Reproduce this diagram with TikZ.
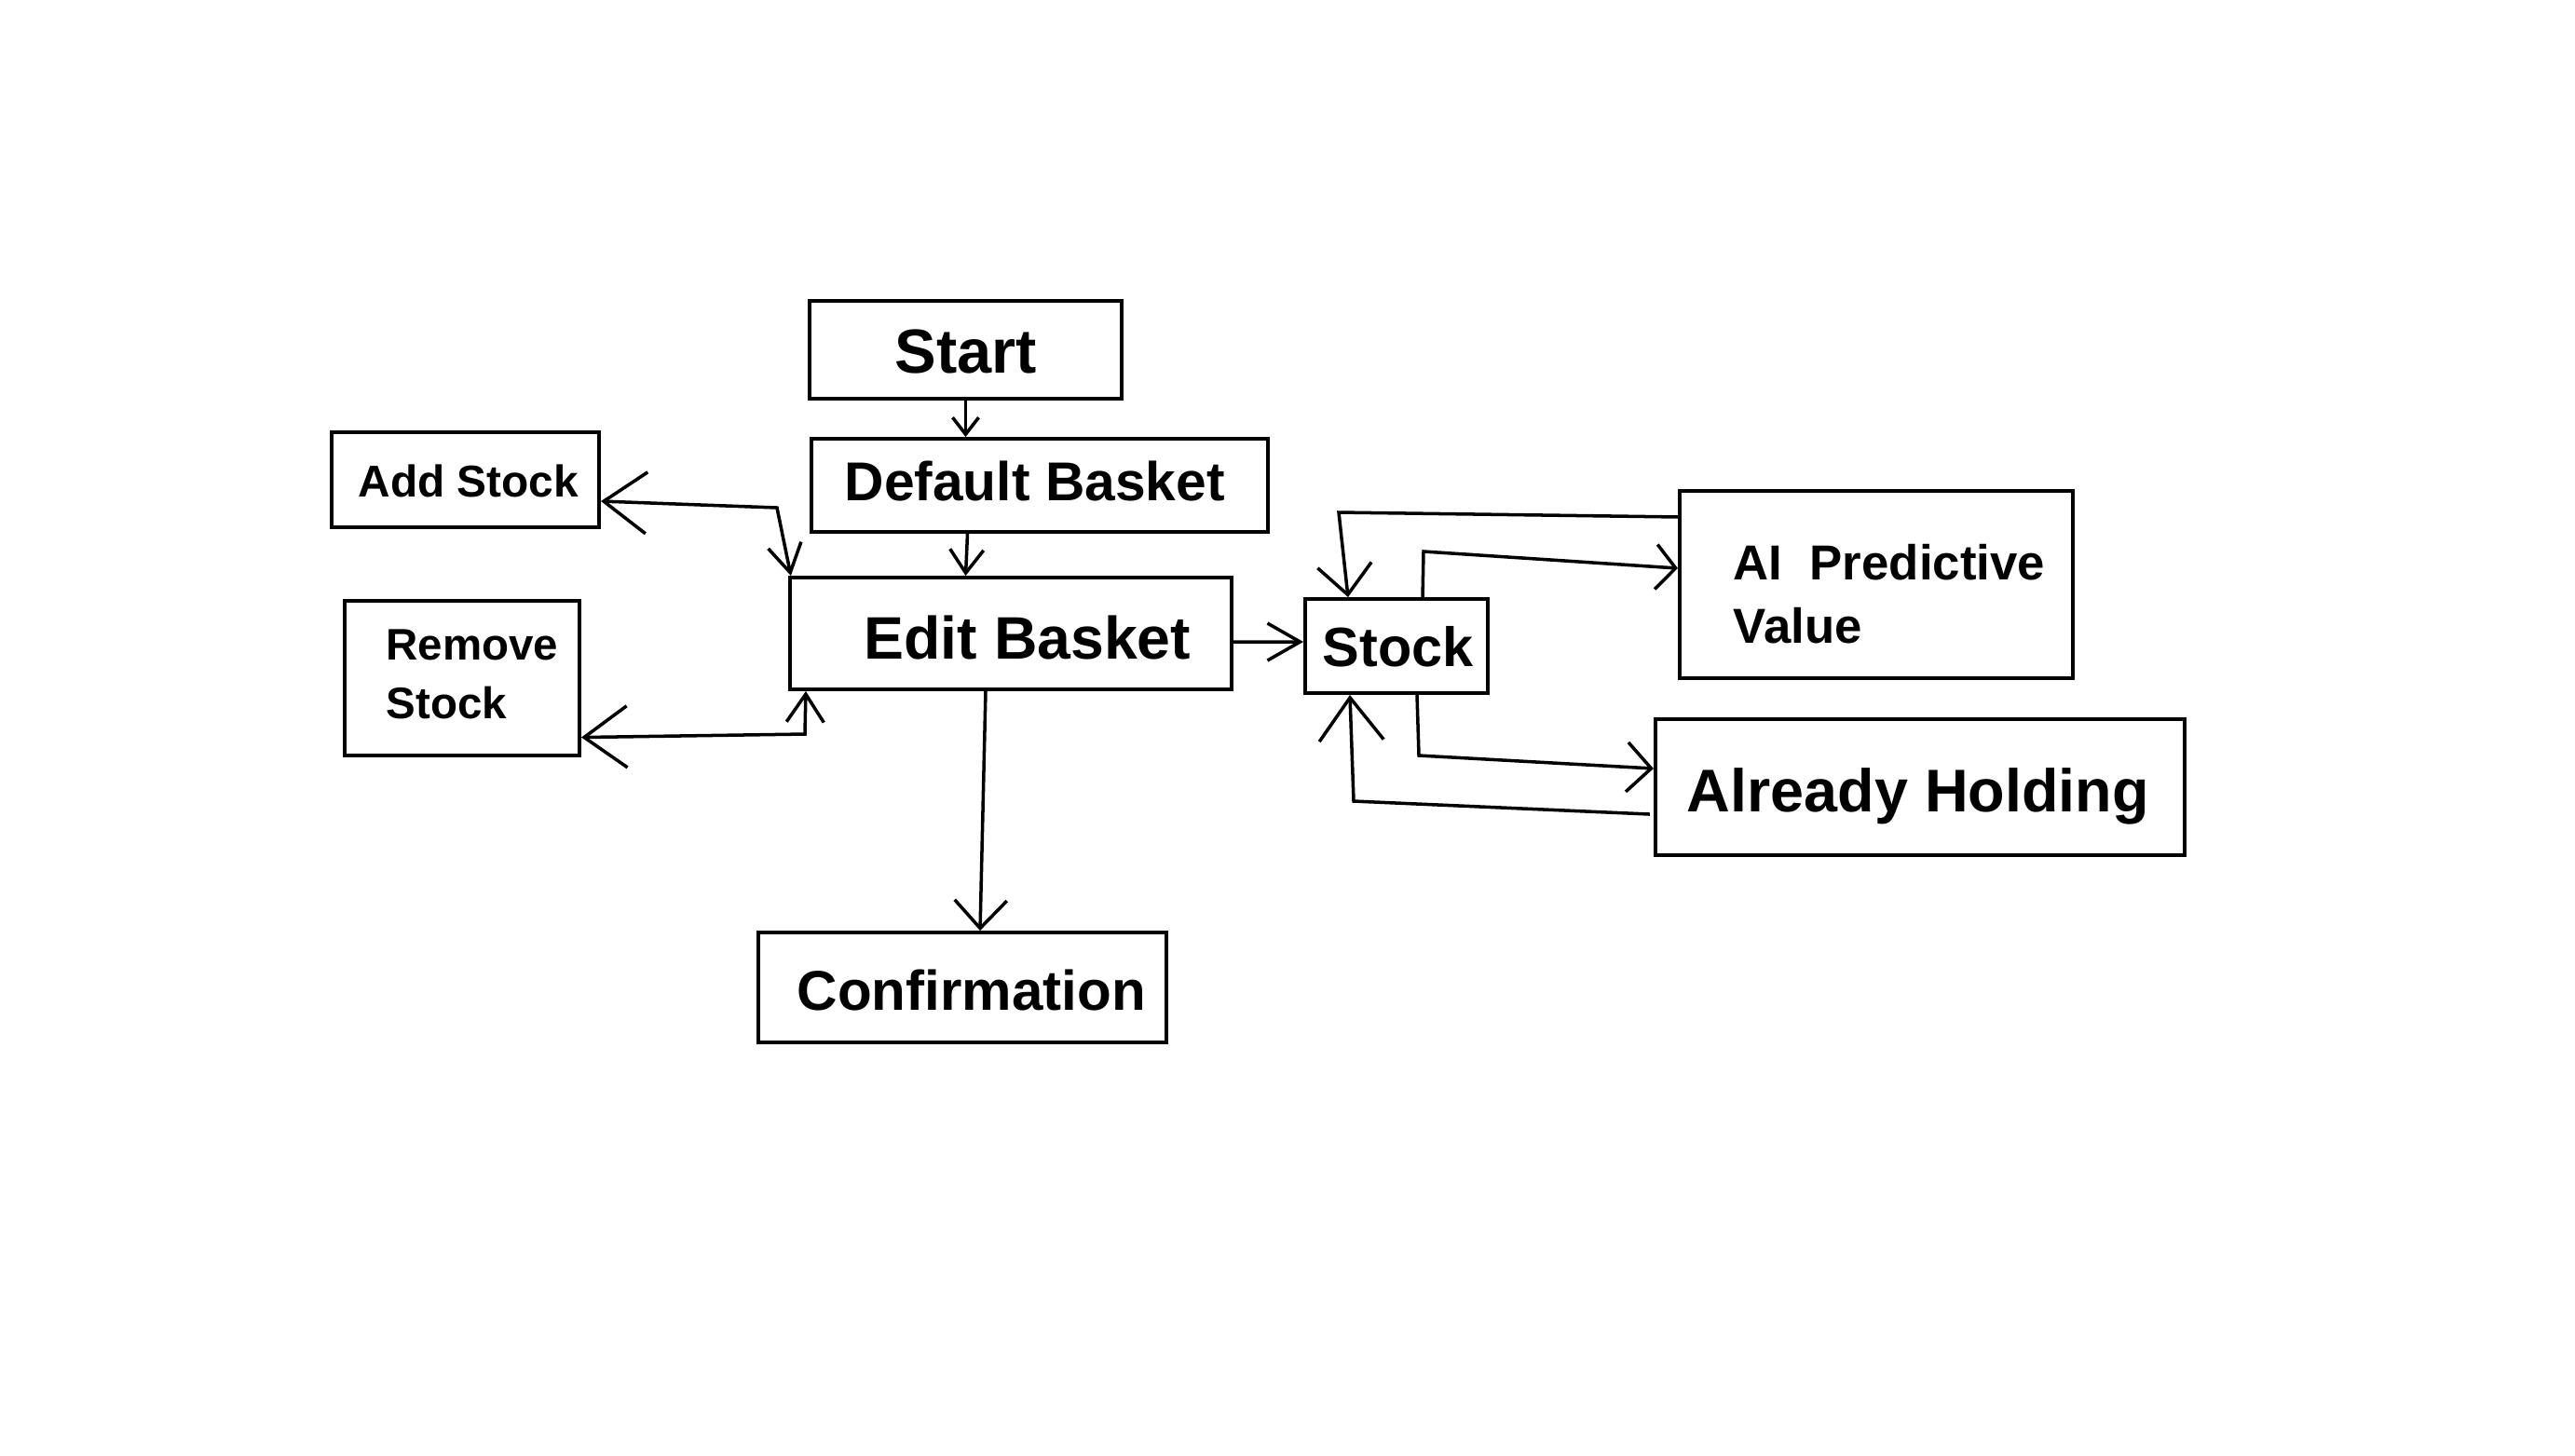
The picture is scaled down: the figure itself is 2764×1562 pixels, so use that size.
\documentclass[tikz,border=0pt]{standalone}
\usepackage{fontspec}
\setmainfont{Liberation Sans}
\usetikzlibrary{arrows.meta}
\begin{document}
\begin{tikzpicture}[x=0.01cm,y=-0.01cm,
  box/.style={draw=black,line width=1.1pt,inner sep=0pt,rectangle},
  txt/.style={anchor=base west,inner sep=0pt,font=\bfseries},
  conn/.style={draw=black,line width=1pt},
  ar/.style 2 args={-{Straight Barb[length=#1,width=#2]}}]
\useasboundingbox[fill=white] (0,0) rectangle (2764,1562);
% boxes
\node[box,minimum width=3.35cm,minimum height=1.05cm] (start) at (1036.5,375.5) {};
\node[box,minimum width=4.90cm,minimum height=1.00cm] (default) at (1116,521) {};
\node[box,minimum width=2.87cm,minimum height=1.02cm] (add) at (499.5,515) {};
\node[box,minimum width=2.52cm,minimum height=1.66cm] (remove) at (496,728) {};
\node[box,minimum width=4.74cm,minimum height=1.20cm] (edit) at (1085,680) {};
\node[box,minimum width=1.96cm,minimum height=1.01cm] (stock) at (1499,693.5) {};
\node[box,minimum width=4.22cm,minimum height=2.01cm] (ai) at (2014,627.5) {};
\node[box,minimum width=5.68cm,minimum height=1.46cm] (hold) at (2061,845) {};
\node[box,minimum width=4.38cm,minimum height=1.18cm] (conf) at (1033,1060) {};
% texts
\node[txt,font=\bfseries\fontsize{19}{23}\selectfont] (startT) at (960,400) {Start};
\node[txt,font=\bfseries\fontsize{16.7}{20}\selectfont] (defaultT) at (906,537.5) {Default Basket};
\node[txt,font=\bfseries\fontsize{13.6}{16}\selectfont] (addT) at (384,533.5) {Add Stock};
\node[txt,font=\bfseries\fontsize{13.5}{16}\selectfont] (removeT1) at (414,708) {Remove};
\node[txt,font=\bfseries\fontsize{13.5}{16}\selectfont] (removeT2) at (414,771.5) {Stock};
\node[txt,font=\bfseries\fontsize{18.3}{22}\selectfont] (editT) at (927,707) {Edit Basket};
\node[txt,font=\bfseries\fontsize{16.9}{20}\selectfont] (stockT) at (1419,715.5) {Stock};
\node[txt,font=\bfseries\fontsize{15}{18}\selectfont] (aiT1) at (1860,622) {AI\ \ Predictive};
\node[txt,font=\bfseries\fontsize{15}{18}\selectfont] (aiT2) at (1860,690.6) {Value};
\node[txt,font=\bfseries\fontsize{18.4}{22}\selectfont] (holdT) at (1810,871) {Already Holding};
\node[txt,font=\bfseries\fontsize{17.1}{20}\selectfont] (confT) at (855,1084.5) {Confirmation};
% bend coordinates
\coordinate (addB) at (834,545);
\coordinate (remB) at (864,788);
\coordinate (aiB1) at (1437,550);
\coordinate (aiB2) at (1528,592);
\coordinate (hoB1) at (1523,811);
\coordinate (hoB2) at (1453,860);
% connectors
\draw[conn,ar={0.18cm}{0.28cm}] (start.south) -- (default.north -| start.south);
\draw[conn,ar={0.25cm}{0.36cm}] ([xshift=0.02cm]default.south -| start.south) -- (edit.north -| start.south);
\draw[conn,{Straight Barb[length=0.46cm,width=0.66cm]}-{Straight Barb[length=0.3cm,width=0.36cm]}] ([yshift=-0.23cm]add.east) -- (addB) -- ([xshift=0.03cm]edit.north west);
\draw[conn,{Straight Barb[length=0.46cm,width=0.66cm]}-{Straight Barb[length=0.3cm,width=0.4cm]}] ([yshift=-0.635cm]remove.east) -- (remB) -- ([xshift=0.19cm]edit.south west);
\draw[conn,ar={0.35cm}{0.4cm}] ([yshift=-0.09cm]edit.east) -- ([yshift=0.045cm]stock.west);
\draw[conn,ar={0.3cm}{0.56cm}] ([xshift=-0.27cm]edit.south) -- ([xshift=0.19cm]conf.north);
\draw[conn,ar={0.32cm}{0.58cm}] ([yshift=0.725cm]ai.west) -- (aiB1) -- ([xshift=-0.52cm]stock.north);
\draw[conn,ar={0.21cm}{0.48cm}] ([xshift=0.28cm]stock.north) -- (aiB2) -- ([yshift=0.175cm]ai.west);
\draw[conn,ar={0.26cm}{0.53cm}] ([xshift=0.22cm]stock.south) -- (hoB1) -- ([yshift=0.2cm]hold.west);
\draw[conn,ar={0.46cm}{0.69cm}] ([xshift=-0.04cm,yshift=-0.29cm]hold.west) -- (hoB2) -- ([xshift=-0.5cm]stock.south);
\end{tikzpicture}
\end{document}
